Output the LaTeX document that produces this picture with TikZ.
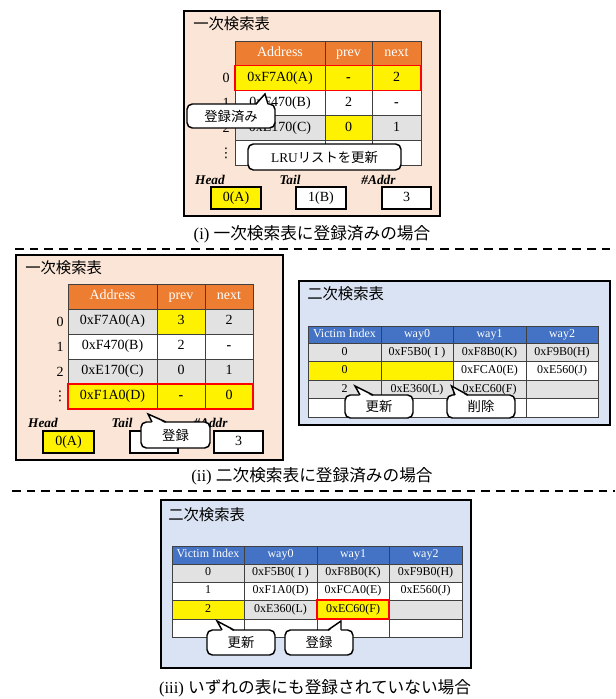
\documentclass[tikz,border=0pt]{standalone}
\usepackage{fontspec}
\setmainfont{Liberation Serif}
\newfontfamily\jp{Noto Sans CJK JP}
\newfontfamily\dvs{DejaVu Sans}
\usetikzlibrary{fit,calc}
\definecolor{peach}{HTML}{FBE5D6}
\definecolor{lblue}{HTML}{DAE3F3}
\definecolor{hdrorange}{HTML}{ED7D31}
\definecolor{hdrblue}{HTML}{4472C4}
\definecolor{rowgray}{HTML}{E2E2E2}
\definecolor{gridline}{HTML}{404040}
\newcommand\cell[7][]{%
  \pgfmathsetmacro\cw{(#5-#3)*0.75}%
  \pgfmathsetmacro\ch{(#6-#4)*0.75}%
  \node[cellsty,minimum width=\cw pt,minimum height=\ch pt,#1] (#2) at ({(#3+#5)/2},{(#4+#6)/2}) {#7};}
\newcommand\ctail[4]{%
  \fill[white] (#1,#3+1.8) -- (#4) -- (#2,#3+1.8) -- cycle;
  \draw[calloutline] (#1,#3) -- (#4) -- (#2,#3);}
\newcommand\dsh{{\bfseries -}}
\begin{document}
\begin{tikzpicture}[x=0.75pt,y=-0.75pt,
  cellsty/.style={draw=gridline,line width=0.6pt,inner sep=0pt,outer sep=0pt,font=\fontsize{10.5}{12}\selectfont,text height=7.2pt,text depth=2.2pt},
  sm/.style={font=\fontsize{9}{10}\selectfont,text height=6.2pt,text depth=1.9pt},
  hdrO/.style={fill=hdrorange,text=white},
  hdrB/.style={fill=hdrblue,text=white},
  gry/.style={fill=rowgray},
  yel/.style={fill=yellow},
  wht/.style={fill=white},
  secbox/.style={draw=black,line width=1.3pt},
  redbox/.style={draw=red,line width=1.3pt,inner sep=0pt},
  title/.style={anchor=west,font=\jp\fontsize{11.5}{13}\selectfont,inner sep=0pt},
  caption/.style={font=\fontsize{12.5}{14}\selectfont,inner sep=0pt},
  idx/.style={font=\fontsize{10.5}{12}\selectfont,inner sep=0pt},
  vd/.style={font=\dvs\fontsize{10}{12}\selectfont,inner sep=0pt},
  ptrlbl/.style={font=\bfseries\itshape\fontsize{10}{12}\selectfont,inner sep=0pt},
  valbox/.style={draw=black,line width=1.1pt,font=\fontsize{10.5}{12}\selectfont},
  callout/.style={draw=black,line width=1.1pt,fill=white,rounded corners=4pt,font=\jp\fontsize{10}{12}\selectfont,text height=,text depth=},
  calloutline/.style={draw=black,line width=1.1pt,line join=miter},
  dashline/.style={line width=1.8pt,dash pattern=on 6.5pt off 4.5pt}]
\fill[white] (0,0) rectangle (615,699);
\useasboundingbox (0,0) rectangle (615,699);

% ===== (i) =====
\cell[secbox,fill=peach]{s1}{184}{11}{440}{216}{}
\node[title] (s1t) at (193,23.5) {一次検索表};
\cell[hdrO]{a1}{235}{41}{325}{65.5}{Address}
\cell[hdrO]{a2}{325}{41}{372}{65.5}{prev}
\cell[hdrO]{a3}{372}{41}{421}{65.5}{next}
\cell[yel]{a4}{235}{65.5}{325}{90.5}{0xF7A0(A)}
\cell[yel]{a5}{325}{65.5}{372}{90.5}{\dsh}
\cell[yel]{a6}{372}{65.5}{421}{90.5}{2}
\cell[wht]{a7}{235}{90.5}{325}{115.5}{0xF470(B)}
\cell[wht]{a8}{325}{90.5}{372}{115.5}{2}
\cell[wht]{a9}{372}{90.5}{421}{115.5}{\dsh}
\cell[gry]{a10}{235}{115.5}{325}{140.5}{0xE170(C)}
\cell[yel]{a11}{325}{115.5}{372}{140.5}{0}
\cell[gry]{a12}{372}{115.5}{421}{140.5}{1}
\cell[wht]{a13}{235}{140.5}{325}{165}{}
\cell[wht]{a14}{325}{140.5}{372}{165}{}
\cell[wht]{a15}{372}{140.5}{421}{165}{}
\node[redbox,fit=(a4)(a6)] (a16) {};
\node[idx] (ai0) at (226,78) {0};
\node[idx] (ai1) at (226,103) {1};
\node[idx] (ai2) at (226,128) {2};
\node[vd] (ai3) at (226,153) {⋮};
\node[ptrlbl] (s1hl) at (210,180) {Head};
\node[ptrlbl] (s1tl) at (290,180) {Tail};
\node[ptrlbl] (s1al) at (378.5,180) {\#Addr};
\cell[valbox,fill=yellow]{s1hv}{211}{187}{261}{209}{0(A)}
\cell[valbox,fill=white]{s1tv}{296}{187}{346}{209}{1(B)}
\cell[valbox,fill=white]{s1av}{382}{187}{431}{209}{3}
\cell[callout]{s1c1}{187}{104}{275}{128}{登録済み}
\ctail{256}{268}{104}{265,94}
\cell[callout]{s1c2}{248}{144}{401}{170}{{\rmfamily LRU}リストを更新}
\node[caption] (cap1) at (312,234) {(i) {\jp 一次検索表に登録済みの場合}};
\coordinate (d1a) at (15,249);
\coordinate (d1b) at (615,249);
\draw[dashline] (d1a) -- (d1b);

% ===== (ii) left =====
\cell[secbox,fill=peach]{s2}{16}{255}{283}{460}{}
\node[title] (s2t) at (25,267.5) {一次検索表};
\cell[hdrO]{b1}{68}{284}{157}{309}{Address}
\cell[hdrO]{b2}{157}{284}{205}{309}{prev}
\cell[hdrO]{b3}{205}{284}{253}{309}{next}
\cell[gry]{b4}{68}{309}{157}{334}{0xF7A0(A)}
\cell[yel]{b5}{157}{309}{205}{334}{3}
\cell[gry]{b6}{205}{309}{253}{334}{2}
\cell[wht]{b7}{68}{334}{157}{359}{0xF470(B)}
\cell[wht]{b8}{157}{334}{205}{359}{2}
\cell[wht]{b9}{205}{334}{253}{359}{\dsh}
\cell[gry]{b10}{68}{359}{157}{384}{0xE170(C)}
\cell[gry]{b11}{157}{359}{205}{384}{0}
\cell[gry]{b12}{205}{359}{253}{384}{1}
\cell[yel]{b13}{68}{384}{157}{409}{0xF1A0(D)}
\cell[yel]{b14}{157}{384}{205}{409}{\dsh}
\cell[yel]{b15}{205}{384}{253}{409}{0}
\node[redbox,fit=(b13)(b15)] (b16) {};
\node[idx] (bi0) at (60,321.5) {0};
\node[idx] (bi1) at (60,346.5) {1};
\node[idx] (bi2) at (60,371.5) {2};
\node[vd] (bi3) at (60,396.5) {⋮};
\node[ptrlbl] (s2hl) at (43,423) {Head};
\node[ptrlbl] (s2tl) at (122,423) {Tail};
\node[ptrlbl] (s2al) at (210.5,423) {\#Addr};
\cell[valbox,fill=yellow]{s2hv}{43}{431}{94}{453}{0(A)}
\cell[valbox,fill=white]{s2tv}{130}{431}{178}{453}{}
\cell[valbox,fill=white]{s2av}{214}{431}{263}{453}{3}
\cell[callout]{s2c1}{141}{422}{210}{448}{登録}
\ctail{152}{166}{422}{148,414}

% ===== (ii) right =====
\cell[secbox,fill=lblue]{s3}{299}{281}{610}{425}{}
\node[title] (s3t) at (307,294) {二次検索表};
\cell[hdrB,sm]{c1}{308}{326}{381}{343.5}{Victim Index}
\cell[hdrB,sm]{c2}{381}{326}{453}{343.5}{way0}
\cell[hdrB,sm]{c3}{453}{326}{526}{343.5}{way1}
\cell[hdrB,sm]{c4}{526}{326}{598}{343.5}{way2}
\cell[gry,sm]{c5}{308}{343.5}{381}{361.5}{0}
\cell[gry,sm]{c6}{381}{343.5}{453}{361.5}{0xF5B0( I )}
\cell[gry,sm]{c7}{453}{343.5}{526}{361.5}{0xF8B0(K)}
\cell[gry,sm]{c8}{526}{343.5}{598}{361.5}{0xF9B0(H)}
\cell[yel,sm]{c9}{308}{361.5}{381}{380}{0}
\cell[yel,sm]{c10}{381}{361.5}{453}{380}{}
\cell[wht,sm]{c11}{453}{361.5}{526}{380}{0xFCA0(E)}
\cell[wht,sm]{c12}{526}{361.5}{598}{380}{0xE560(J)}
\cell[gry,sm]{c13}{308}{380}{381}{398.5}{2}
\cell[gry,sm]{c14}{381}{380}{453}{398.5}{0xE360(L)}
\cell[gry,sm]{c15}{453}{380}{526}{398.5}{0xEC60(F)}
\cell[gry,sm]{c16}{526}{380}{598}{398.5}{}
\cell[wht,sm]{c17}{308}{398.5}{381}{417.5}{}
\cell[wht,sm]{c18}{381}{398.5}{453}{417.5}{}
\cell[wht,sm]{c19}{453}{398.5}{526}{417.5}{}
\cell[wht,sm]{c20}{526}{398.5}{598}{417.5}{}
\cell[callout]{s3c1}{345}{395}{413}{418}{更新}
\ctail{360}{373}{395}{355,386}
\cell[callout]{s3c2}{447}{395}{515}{418}{削除}
\ctail{455}{468}{395}{451.5,386}
\node[caption] (cap2) at (312,476) {(ii) {\jp 二次検索表に登録済みの場合}};
\coordinate (d2a) at (12,491);
\coordinate (d2b) at (615,491);
\draw[dashline] (d2a) -- (d2b);

% ===== (iii) =====
\cell[secbox,fill=lblue]{s4}{161}{500}{471}{668}{}
\node[title] (s4t) at (168,514.5) {二次検索表};
\cell[hdrB,sm]{e1}{172}{546}{244}{564}{Victim Index}
\cell[hdrB,sm]{e2}{244}{546}{317}{564}{way0}
\cell[hdrB,sm]{e3}{317}{546}{389}{564}{way1}
\cell[hdrB,sm]{e4}{389}{546}{462}{564}{way2}
\cell[gry,sm]{e5}{172}{564}{244}{582}{0}
\cell[gry,sm]{e6}{244}{564}{317}{582}{0xF5B0( I )}
\cell[gry,sm]{e7}{317}{564}{389}{582}{0xF8B0(K)}
\cell[gry,sm]{e8}{389}{564}{462}{582}{0xF9B0(H)}
\cell[wht,sm]{e9}{172}{582}{244}{600}{1}
\cell[wht,sm]{e10}{244}{582}{317}{600}{0xF1A0(D)}
\cell[wht,sm]{e11}{317}{582}{389}{600}{0xFCA0(E)}
\cell[wht,sm]{e12}{389}{582}{462}{600}{0xE560(J)}
\cell[yel,sm]{e13}{172}{600}{244}{619}{2}
\cell[gry,sm]{e14}{244}{600}{317}{619}{0xE360(L)}
\cell[yel,sm]{e15}{317}{600}{389}{619}{0xEC60(F)}
\cell[gry,sm]{e16}{389}{600}{462}{619}{}
\cell[wht,sm]{e17}{172}{619}{244}{637}{}
\cell[wht,sm]{e18}{244}{619}{317}{637}{}
\cell[wht,sm]{e19}{317}{619}{389}{637}{}
\cell[wht,sm]{e20}{389}{619}{462}{637}{}
\node[redbox,fit=(e15)] (e21) {};
\cell[callout]{s4c1}{207}{630}{275}{655}{更新}
\ctail{222}{234}{630}{217,621}
\cell[callout]{s4c2}{285}{630}{353}{655}{登録}
\ctail{328}{341}{630}{341,621}
\node[caption] (cap3) at (315,688) {(iii) {\jp いずれの表にも登録されていない場合}};
\end{tikzpicture}
\end{document}
